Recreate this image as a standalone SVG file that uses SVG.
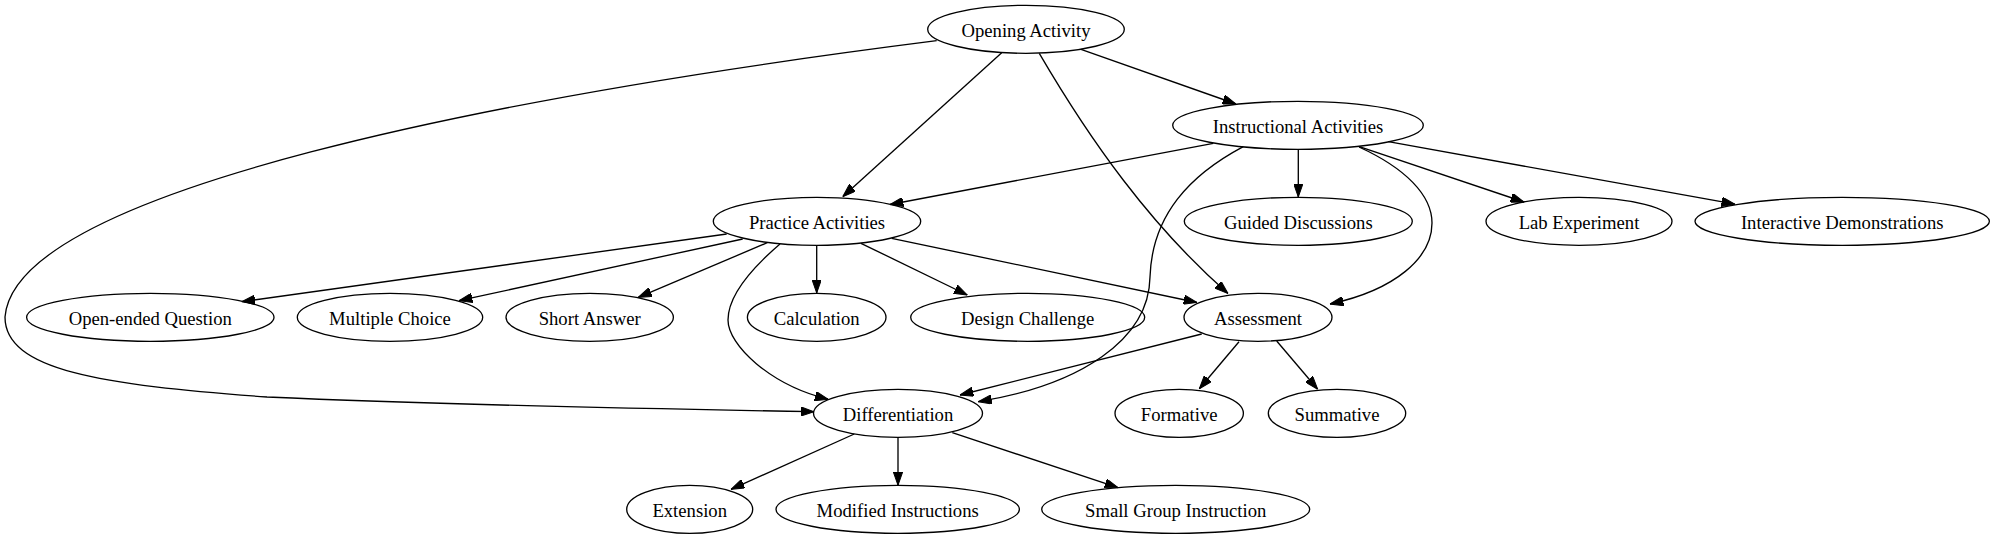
<svg xmlns="http://www.w3.org/2000/svg" width="1994" height="539" viewBox="0 0 1994 539">
<defs>
<style>
.node ellipse{fill:none;stroke:#000;stroke-width:1.33}
.node text{font-family:"Liberation Serif","Times New Roman",serif;font-size:18.67px;fill:#000;text-anchor:middle}
.edges path{fill:none;stroke:#000;stroke-width:1.33;marker-end:url(#arr)}
</style>
<marker id="arr" markerUnits="userSpaceOnUse" viewBox="0 0 13.4 9.4" refX="13.4" refY="4.7" markerWidth="13.4" markerHeight="9.4" orient="auto">
<path d="M0,0 L13.4,4.7 L0,9.4 z" fill="#000" stroke="#000" stroke-width="1"/>
</marker>
</defs>
<rect width="1994" height="539" fill="#fff"/>
<g class="edges">
<path d="M1081,49.3 L1236,104"/>
<path d="M1001.7,52.7 L842.7,196.7"/>
<path d="M1039.3,53.3 C1090,140 1150,225 1228,293.5"/>
<path d="M936.7,40.7 C500,96 15,190 5,317 C5,370 100,385 267,397 C400,403 600,408 814,411.7"/>
<path d="M1213.3,143.3 L890,204.5"/>
<path d="M1298.3,149.3 L1298.3,197"/>
<path d="M1359.3,146.7 L1524,202"/>
<path d="M1388.3,141.7 L1735,204.2"/>
<path d="M1359,147 C1405,168 1432,195 1432,223 C1432,258 1395,290 1330,304"/>
<path d="M1243.3,146.7 C1190,175 1152,215 1150,277 C1149,340 1080,385 978.3,401.7"/>
<path d="M726.7,234 L241.7,301.7"/>
<path d="M742.7,239 L459,300.7"/>
<path d="M767.3,242.7 L638.3,297.3"/>
<path d="M816.7,246 L816.7,293"/>
<path d="M861,243.3 L967.3,295"/>
<path d="M891.7,238.3 L1197,302.5"/>
<path d="M780,244 C752,268 728,295 728,320 C728,345 770,385 828.3,399.3"/>
<path d="M1201.7,334 L960,395"/>
<path d="M1239,341.7 L1199.3,388.8"/>
<path d="M1276.7,341 L1317.7,389.3"/>
<path d="M854.3,434 L731,489.3"/>
<path d="M898,437 L898,485.3"/>
<path d="M952.3,432.7 L1118,487.6"/>
</g>
<g id="opening" class="node"><ellipse cx="1026" cy="29.3" rx="98.3" ry="24"/><text x="1026" y="36.5">Opening Activity</text></g>
<g id="instructional" class="node"><ellipse cx="1298" cy="125.3" rx="125.3" ry="24"/><text x="1298" y="132.5">Instructional Activities</text></g>
<g id="practice" class="node"><ellipse cx="817" cy="221.3" rx="103.7" ry="24"/><text x="817" y="228.5">Practice Activities</text></g>
<g id="guided" class="node"><ellipse cx="1298.3" cy="221.3" rx="114" ry="24"/><text x="1298.3" y="228.5">Guided Discussions</text></g>
<g id="lab" class="node"><ellipse cx="1579" cy="221.3" rx="93" ry="24"/><text x="1579" y="228.5">Lab Experiment</text></g>
<g id="interactive" class="node"><ellipse cx="1842.2" cy="221.3" rx="147.2" ry="24"/><text x="1842.2" y="228.5">Interactive Demonstrations</text></g>
<g id="openended" class="node"><ellipse cx="150.3" cy="317.3" rx="123.7" ry="24"/><text x="150.3" y="324.5">Open-ended Question</text></g>
<g id="multiple" class="node"><ellipse cx="390" cy="317.3" rx="92.7" ry="24"/><text x="390" y="324.5">Multiple Choice</text></g>
<g id="short" class="node"><ellipse cx="589.7" cy="317.3" rx="83.7" ry="24"/><text x="589.7" y="324.5">Short Answer</text></g>
<g id="calculation" class="node"><ellipse cx="816.7" cy="317.3" rx="69.3" ry="24"/><text x="816.7" y="324.5">Calculation</text></g>
<g id="design" class="node"><ellipse cx="1027.7" cy="317.3" rx="117" ry="24"/><text x="1027.7" y="324.5">Design Challenge</text></g>
<g id="assessment" class="node"><ellipse cx="1258" cy="317.3" rx="74" ry="24"/><text x="1258" y="324.5">Assessment</text></g>
<g id="differentiation" class="node"><ellipse cx="898" cy="413.3" rx="84.5" ry="24"/><text x="898" y="420.5">Differentiation</text></g>
<g id="formative" class="node"><ellipse cx="1179.2" cy="413.3" rx="64.2" ry="24"/><text x="1179.2" y="420.5">Formative</text></g>
<g id="summative" class="node"><ellipse cx="1337" cy="413.3" rx="68.7" ry="24"/><text x="1337" y="420.5">Summative</text></g>
<g id="extension" class="node"><ellipse cx="689.7" cy="509.3" rx="63" ry="24"/><text x="689.7" y="516.5">Extension</text></g>
<g id="modified" class="node"><ellipse cx="897.7" cy="509.3" rx="121.7" ry="24"/><text x="897.7" y="516.5">Modified Instructions</text></g>
<g id="smallgroup" class="node"><ellipse cx="1175.7" cy="509.3" rx="134" ry="24"/><text x="1175.7" y="516.5">Small Group Instruction</text></g>
</svg>
